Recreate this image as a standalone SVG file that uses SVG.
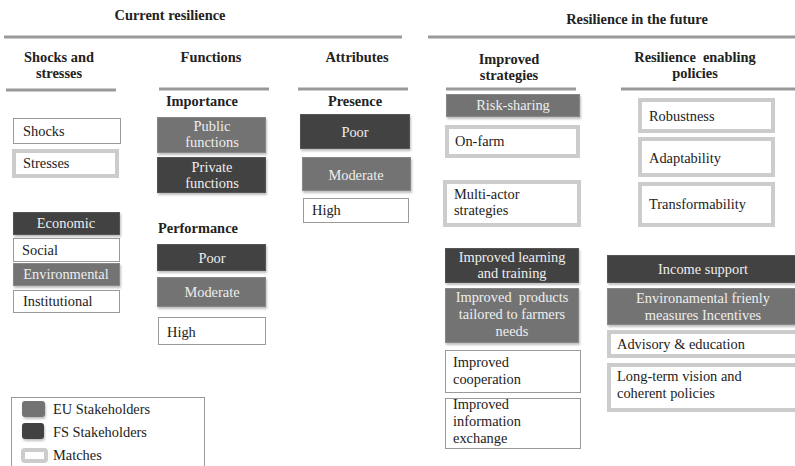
<svg xmlns="http://www.w3.org/2000/svg" width="795" height="466" viewBox="0 0 795 466" font-family="Liberation Serif, Times New Roman, serif" font-size="14.4">
<style>
text{fill:#222}
.h{font-weight:bold;text-anchor:middle}
.b{font-weight:bold}
.c{text-anchor:middle}
.w{fill:#eeeeee}
.rule{stroke:#999;stroke-width:3;fill:none}
.dark{fill:#424242;stroke:#555;stroke-width:1}
.eu{fill:#737373;stroke:#888;stroke-width:1}
.thin{fill:#fff;stroke:#9a9a9a;stroke-width:1}
.match{fill:#fff;stroke:#cccccc;stroke-width:4}
.lg{fill:#fff;stroke:#999;stroke-width:1}
</style>
<defs>
<filter id="sh" x="-10%" y="-10%" width="130%" height="140%">
<feDropShadow dx="1" dy="2" stdDeviation="1.2" flood-color="#000" flood-opacity="0.25"/>
</filter>
</defs>
<g id="headers">
<text class="h" x="170" y="20">Current resilience</text>
<text class="h" x="637" y="24">Resilience in the future</text>
<text class="h" x="59" y="62">Shocks and</text>
<text class="h" x="59" y="78">stresses</text>
<text class="h" x="211" y="62">Functions</text>
<text class="h" x="357" y="62">Attributes</text>
<text class="h" x="509" y="64">Improved</text>
<text class="h" x="509" y="80">strategies</text>
<text class="h" x="695" y="62" xml:space="preserve">Resilience  enabling</text>
<text class="h" x="695" y="78">policies</text>
<text class="h" x="202" y="106">Importance</text>
<text class="h" x="355" y="106">Presence</text>
<text class="b" x="158" y="233">Performance</text>
</g>
<g id="rules">
<line class="rule" x1="4" y1="37" x2="402" y2="37"/>
<line class="rule" x1="428" y1="37" x2="795" y2="37"/>
<line class="rule" x1="6" y1="90" x2="116" y2="90"/>
<line class="rule" x1="159" y1="89" x2="269" y2="89"/>
<line class="rule" x1="298" y1="89" x2="408" y2="89"/>
<line class="rule" x1="446" y1="89" x2="576" y2="89"/>
<line class="rule" x1="621" y1="89" x2="795" y2="89"/>
</g>
<g id="shocks"><rect class="thin" x="13.5" y="118.5" width="107" height="25"/><text x="23" y="136">Shocks</text></g>
<g id="stresses"><rect class="match" x="14" y="151" width="103" height="25"/><text x="23" y="168">Stresses</text></g>
<g id="economic"><rect class="dark" x="13.5" y="212.5" width="106" height="22" filter="url(#sh)"/><text class="c w" x="66" y="228">Economic</text></g>
<g id="social"><rect class="thin" x="13.5" y="238.5" width="106" height="23"/><text x="22" y="255">Social</text></g>
<g id="environmental"><rect class="eu" x="13.5" y="263.5" width="106" height="22" filter="url(#sh)"/><text class="c w" x="66" y="279">Environmental</text></g>
<g id="institutional"><rect class="thin" x="13.5" y="290.5" width="106" height="22"/><text x="23" y="306">Institutional</text></g>
<g id="public-functions"><rect class="eu" x="157.5" y="117.5" width="108" height="35" filter="url(#sh)"/><text class="c w" x="212" y="131">Public</text><text class="c w" x="212" y="147">functions</text></g>
<g id="private-functions"><rect class="dark" x="157.5" y="157.5" width="108" height="35" filter="url(#sh)"/><text class="c w" x="212" y="172">Private</text><text class="c w" x="212" y="188">functions</text></g>
<g id="perf-poor"><rect class="dark" x="157.5" y="244.5" width="108" height="26" filter="url(#sh)"/><text class="c w" x="212" y="263">Poor</text></g>
<g id="perf-moderate"><rect class="eu" x="157.5" y="277.5" width="108" height="29" filter="url(#sh)"/><text class="c w" x="212" y="297">Moderate</text></g>
<g id="perf-high"><rect class="thin" x="158.5" y="317.5" width="107" height="27"/><text x="167" y="337">High</text></g>
<g id="pres-poor"><rect class="dark" x="300.5" y="114.5" width="109" height="34" filter="url(#sh)"/><text class="c w" x="355" y="137">Poor</text></g>
<g id="pres-moderate"><rect class="eu" x="302.5" y="157.5" width="108" height="33" filter="url(#sh)"/><text class="c w" x="356" y="180">Moderate</text></g>
<g id="pres-high"><rect class="thin" x="303.5" y="198.5" width="105" height="24"/><text x="312" y="215">High</text></g>
<g id="risk-sharing"><rect class="eu" x="446.5" y="94.5" width="133" height="22" filter="url(#sh)"/><text class="c w" x="513" y="110">Risk-sharing</text></g>
<g id="on-farm"><rect class="match" x="447" y="127" width="131" height="29"/><text x="455" y="146">On-farm</text></g>
<g id="multi-actor"><rect class="match" x="445" y="182" width="134" height="43"/><text x="454" y="199">Multi-actor</text><text x="454" y="215">strategies</text></g>
<g id="learning"><rect class="dark" x="445.5" y="248.5" width="133" height="34" filter="url(#sh)"/><text class="c w" x="512" y="262">Improved learning</text><text class="c w" x="512" y="278">and training</text></g>
<g id="products"><rect class="eu" x="445.5" y="288.5" width="133" height="54" filter="url(#sh)"/><text class="c w" x="512" y="302" xml:space="preserve">Improved  products</text><text class="c w" x="512" y="319">tailored to farmers</text><text class="c w" x="512" y="336">needs</text></g>
<g id="cooperation"><rect class="thin" x="445.5" y="350.5" width="135" height="42"/><text x="453" y="367">Improved</text><text x="453" y="384">cooperation</text></g>
<g id="information"><rect class="thin" x="445.5" y="398.5" width="135" height="50"/><text x="453" y="409">Improved</text><text x="453" y="426">information</text><text x="453" y="443">exchange</text></g>
<g id="robustness"><rect class="match" x="640" y="100" width="133" height="31"/><text x="649" y="121">Robustness</text></g>
<g id="adaptability"><rect class="match" x="640" y="139" width="133" height="36"/><text x="649" y="163">Adaptability</text></g>
<g id="transformability"><rect class="match" x="640" y="184" width="133" height="41"/><text x="649" y="209">Transformability</text></g>
<g id="income-support"><rect class="dark" x="607.5" y="255.5" width="190" height="27" filter="url(#sh)"/><text class="c w" x="703" y="274">Income support</text></g>
<g id="env-measures"><rect class="eu" x="607.5" y="288.5" width="190" height="36" filter="url(#sh)"/><text class="c w" x="703" y="303">Environamental frienly</text><text class="c w" x="703" y="320">measures Incentives</text></g>
<g id="advisory"><rect class="match" x="609" y="332" width="190" height="24"/><text x="617" y="349">Advisory &amp; education</text></g>
<g id="long-term"><rect class="match" x="609" y="365" width="190" height="45"/><text x="617" y="381">Long-term vision and</text><text x="617" y="398">coherent policies</text></g>
<g id="legend">
<rect class="lg" x="11.5" y="397.5" width="193" height="75"/>
<rect x="22" y="401" width="23" height="16" rx="3" fill="#737373" filter="url(#sh)"/>
<text x="53" y="414">EU Stakeholders</text>
<rect x="22" y="423" width="22" height="16" rx="3" fill="#424242" filter="url(#sh)"/>
<text x="53" y="437">FS Stakeholders</text>
<rect x="23" y="450" width="23" height="11" rx="2" fill="#fff" stroke="#cccccc" stroke-width="4"/>
<text x="53" y="460">Matches</text>
</g>
</svg>
